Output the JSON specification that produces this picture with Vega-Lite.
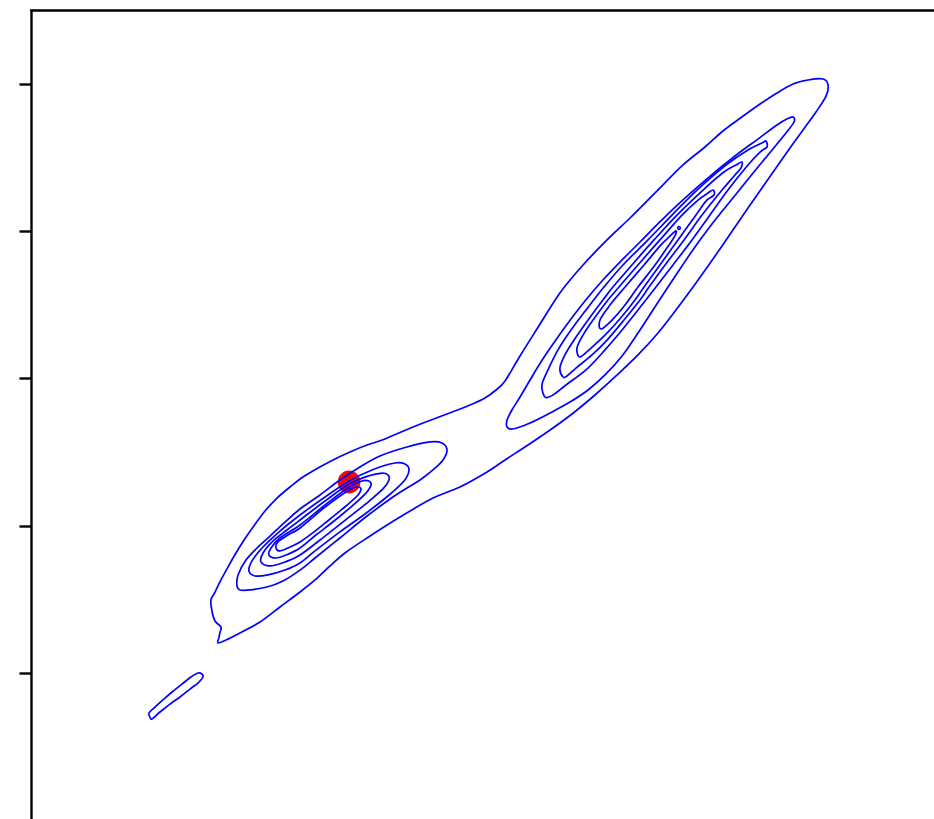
{
  "$schema": "https://vega.github.io/schema/vega-lite/v6.json",
  "autosize": {"type": "none"},
  "padding": {"left": 31, "top": 10, "right": 0, "bottom": 0},
  "width": 903,
  "height": 809,
  "background": "white",
  "config": {"view": {"stroke": null}},
  "datasets": {
    "peak": [{"x": 2.160, "y": 1.297}],
    "contours": [
      {"c":"a","i":1,"x":1.270,"y":0.204},{"c":"a","i":2,"x":1.277,"y":0.244},{"c":"a","i":3,"x":1.284,"y":0.278},{"c":"a","i":4,"x":1.290,"y":0.312},{"c":"a","i":5,"x":1.250,"y":0.353},{"c":"a","i":6,"x":1.229,"y":0.421},{"c":"a","i":7,"x":1.222,"y":0.496},{"c":"a","i":8,"x":1.250,"y":0.550},{"c":"a","i":9,"x":1.290,"y":0.632},{"c":"a","i":10,"x":1.345,"y":0.733},
      {"c":"a","i":11,"x":1.392,"y":0.815},{"c":"a","i":12,"x":1.447,"y":0.903},{"c":"a","i":13,"x":1.508,"y":0.991},{"c":"a","i":14,"x":1.589,"y":1.100},{"c":"a","i":15,"x":1.671,"y":1.188},{"c":"a","i":16,"x":1.759,"y":1.263},{"c":"a","i":17,"x":1.847,"y":1.331},{"c":"a","i":18,"x":1.949,"y":1.392},{"c":"a","i":19,"x":2.051,"y":1.447},{"c":"a","i":20,"x":2.166,"y":1.501},
      {"c":"a","i":21,"x":2.282,"y":1.548},{"c":"a","i":22,"x":2.404,"y":1.589},{"c":"a","i":23,"x":2.594,"y":1.671},{"c":"a","i":24,"x":2.825,"y":1.759},{"c":"a","i":25,"x":2.981,"y":1.820},{"c":"a","i":26,"x":3.083,"y":1.868},{"c":"a","i":27,"x":3.158,"y":1.922},{"c":"a","i":28,"x":3.219,"y":1.983},{"c":"a","i":29,"x":3.321,"y":2.153},{"c":"a","i":30,"x":3.436,"y":2.336},
      {"c":"a","i":31,"x":3.592,"y":2.581},{"c":"a","i":32,"x":3.749,"y":2.771},{"c":"a","i":33,"x":3.912,"y":2.941},{"c":"a","i":34,"x":4.068,"y":3.090},{"c":"a","i":35,"x":4.238,"y":3.260},{"c":"a","i":36,"x":4.428,"y":3.450},{"c":"a","i":37,"x":4.577,"y":3.572},{"c":"a","i":38,"x":4.699,"y":3.681},{"c":"a","i":39,"x":4.828,"y":3.776},{"c":"a","i":40,"x":4.951,"y":3.864},
      {"c":"a","i":41,"x":5.066,"y":3.939},{"c":"a","i":42,"x":5.175,"y":4.000},{"c":"a","i":43,"x":5.277,"y":4.027},{"c":"a","i":44,"x":5.379,"y":4.034},{"c":"a","i":45,"x":5.413,"y":3.993},{"c":"a","i":46,"x":5.399,"y":3.918},{"c":"a","i":47,"x":5.331,"y":3.810},{"c":"a","i":48,"x":5.243,"y":3.688},{"c":"a","i":49,"x":5.154,"y":3.565},{"c":"a","i":50,"x":5.059,"y":3.430},
      {"c":"a","i":51,"x":4.964,"y":3.294},{"c":"a","i":52,"x":4.869,"y":3.158},{"c":"a","i":53,"x":4.781,"y":3.029},{"c":"a","i":54,"x":4.693,"y":2.900},{"c":"a","i":55,"x":4.598,"y":2.764},{"c":"a","i":56,"x":4.496,"y":2.621},{"c":"a","i":57,"x":4.380,"y":2.465},{"c":"a","i":58,"x":4.258,"y":2.309},{"c":"a","i":59,"x":4.122,"y":2.160},{"c":"a","i":60,"x":3.973,"y":2.017},
      {"c":"a","i":61,"x":3.830,"y":1.888},{"c":"a","i":62,"x":3.674,"y":1.759},{"c":"a","i":63,"x":3.525,"y":1.650},{"c":"a","i":64,"x":3.375,"y":1.548},{"c":"a","i":65,"x":3.219,"y":1.447},{"c":"a","i":66,"x":3.097,"y":1.365},{"c":"a","i":67,"x":2.913,"y":1.263},{"c":"a","i":68,"x":2.730,"y":1.188},{"c":"a","i":69,"x":2.506,"y":1.059},{"c":"a","i":70,"x":2.282,"y":0.917},
      {"c":"a","i":71,"x":2.132,"y":0.815},{"c":"a","i":72,"x":2.031,"y":0.727},{"c":"a","i":73,"x":1.929,"y":0.632},{"c":"a","i":74,"x":1.827,"y":0.550},{"c":"a","i":75,"x":1.691,"y":0.448},{"c":"a","i":76,"x":1.555,"y":0.346},{"c":"a","i":77,"x":1.419,"y":0.272},{"c":"a","i":78,"x":1.324,"y":0.224},

      {"c":"b","i":1,"x":1.134,"y":0.000},{"c":"b","i":2,"x":1.161,"y":-0.007},{"c":"b","i":3,"x":1.168,"y":-0.027},{"c":"b","i":4,"x":1.134,"y":-0.068},{"c":"b","i":5,"x":1.080,"y":-0.109},{"c":"b","i":6,"x":1.012,"y":-0.163},{"c":"b","i":7,"x":0.944,"y":-0.211},{"c":"b","i":8,"x":0.876,"y":-0.265},
      {"c":"b","i":9,"x":0.822,"y":-0.312},{"c":"b","i":10,"x":0.808,"y":-0.299},{"c":"b","i":11,"x":0.801,"y":-0.272},{"c":"b","i":12,"x":0.842,"y":-0.231},{"c":"b","i":13,"x":0.896,"y":-0.183},{"c":"b","i":14,"x":0.958,"y":-0.129},{"c":"b","i":15,"x":1.025,"y":-0.075},{"c":"b","i":16,"x":1.087,"y":-0.027},

      {"c":"c2","i":1,"x":1.399,"y":0.591},{"c":"c2","i":2,"x":1.406,"y":0.666},{"c":"c2","i":3,"x":1.460,"y":0.767},{"c":"c2","i":4,"x":1.535,"y":0.849},{"c":"c2","i":5,"x":1.623,"y":0.930},{"c":"c2","i":6,"x":1.725,"y":1.025},{"c":"c2","i":7,"x":1.827,"y":1.114},{"c":"c2","i":8,"x":1.963,"y":1.209},{"c":"c2","i":9,"x":2.098,"y":1.311},{"c":"c2","i":10,"x":2.234,"y":1.399},
      {"c":"c2","i":11,"x":2.370,"y":1.474},{"c":"c2","i":12,"x":2.553,"y":1.535},{"c":"c2","i":13,"x":2.710,"y":1.569},{"c":"c2","i":14,"x":2.791,"y":1.562},{"c":"c2","i":15,"x":2.825,"y":1.514},{"c":"c2","i":16,"x":2.798,"y":1.447},{"c":"c2","i":17,"x":2.730,"y":1.379},{"c":"c2","i":18,"x":2.642,"y":1.311},{"c":"c2","i":19,"x":2.553,"y":1.256},{"c":"c2","i":20,"x":2.458,"y":1.195},
      {"c":"c2","i":21,"x":2.282,"y":1.066},{"c":"c2","i":22,"x":2.098,"y":0.917},{"c":"c2","i":23,"x":1.929,"y":0.781},{"c":"c2","i":24,"x":1.827,"y":0.699},{"c":"c2","i":25,"x":1.711,"y":0.625},{"c":"c2","i":26,"x":1.603,"y":0.584},{"c":"c2","i":27,"x":1.487,"y":0.564},{"c":"c2","i":28,"x":1.419,"y":0.564},

      {"c":"c3","i":1,"x":1.480,"y":0.693},{"c":"c3","i":2,"x":1.501,"y":0.761},{"c":"c3","i":3,"x":1.569,"y":0.849},{"c":"c3","i":4,"x":1.691,"y":0.964},{"c":"c3","i":5,"x":1.827,"y":1.073},{"c":"c3","i":6,"x":1.997,"y":1.195},{"c":"c3","i":7,"x":2.160,"y":1.304},{"c":"c3","i":8,"x":2.316,"y":1.379},{"c":"c3","i":9,"x":2.472,"y":1.426},{"c":"c3","i":10,"x":2.540,"y":1.419},
      {"c":"c3","i":11,"x":2.567,"y":1.379},{"c":"c3","i":12,"x":2.533,"y":1.304},{"c":"c3","i":13,"x":2.424,"y":1.202},{"c":"c3","i":14,"x":2.268,"y":1.080},{"c":"c3","i":15,"x":2.098,"y":0.958},{"c":"c3","i":16,"x":1.929,"y":0.829},{"c":"c3","i":17,"x":1.827,"y":0.747},{"c":"c3","i":18,"x":1.725,"y":0.699},{"c":"c3","i":19,"x":1.609,"y":0.666},{"c":"c3","i":20,"x":1.521,"y":0.659},

      {"c":"c4","i":1,"x":1.562,"y":0.754},{"c":"c4","i":2,"x":1.576,"y":0.815},{"c":"c4","i":3,"x":1.643,"y":0.896},{"c":"c4","i":4,"x":1.738,"y":0.971},{"c":"c4","i":5,"x":1.827,"y":1.039},{"c":"c4","i":6,"x":1.997,"y":1.168},{"c":"c4","i":7,"x":2.160,"y":1.283},{"c":"c4","i":8,"x":2.289,"y":1.338},{"c":"c4","i":9,"x":2.384,"y":1.358},
      {"c":"c4","i":10,"x":2.424,"y":1.345},{"c":"c4","i":11,"x":2.431,"y":1.311},{"c":"c4","i":12,"x":2.390,"y":1.250},{"c":"c4","i":13,"x":2.289,"y":1.161},{"c":"c4","i":14,"x":2.153,"y":1.053},{"c":"c4","i":15,"x":1.997,"y":0.930},{"c":"c4","i":16,"x":1.827,"y":0.801},{"c":"c4","i":17,"x":1.725,"y":0.754},{"c":"c4","i":18,"x":1.623,"y":0.727},

      {"c":"c5","i":1,"x":1.616,"y":0.801},{"c":"c5","i":2,"x":1.630,"y":0.849},{"c":"c5","i":3,"x":1.691,"y":0.917},{"c":"c5","i":4,"x":1.827,"y":1.005},{"c":"c5","i":5,"x":1.997,"y":1.141},{"c":"c5","i":6,"x":2.160,"y":1.263},{"c":"c5","i":7,"x":2.248,"y":1.304},{"c":"c5","i":8,"x":2.295,"y":1.304},
      {"c":"c5","i":9,"x":2.309,"y":1.277},{"c":"c5","i":10,"x":2.275,"y":1.222},{"c":"c5","i":11,"x":2.180,"y":1.134},{"c":"c5","i":12,"x":2.058,"y":1.032},{"c":"c5","i":13,"x":1.935,"y":0.937},{"c":"c5","i":14,"x":1.827,"y":0.849},{"c":"c5","i":15,"x":1.732,"y":0.801},{"c":"c5","i":16,"x":1.664,"y":0.781},

      {"c":"c6","i":1,"x":1.664,"y":0.849},{"c":"c6","i":2,"x":1.677,"y":0.890},{"c":"c6","i":3,"x":1.745,"y":0.937},{"c":"c6","i":4,"x":1.827,"y":0.985},{"c":"c6","i":5,"x":1.997,"y":1.127},{"c":"c6","i":6,"x":2.160,"y":1.243},{"c":"c6","i":7,"x":2.214,"y":1.263},{"c":"c6","i":8,"x":2.241,"y":1.250},
      {"c":"c6","i":9,"x":2.221,"y":1.209},{"c":"c6","i":10,"x":2.139,"y":1.134},{"c":"c6","i":11,"x":2.031,"y":1.046},{"c":"c6","i":12,"x":1.922,"y":0.958},{"c":"c6","i":13,"x":1.827,"y":0.890},{"c":"c6","i":14,"x":1.745,"y":0.849},{"c":"c6","i":15,"x":1.691,"y":0.829},

      {"c":"u2","i":1,"x":3.233,"y":1.671},{"c":"u2","i":2,"x":3.233,"y":1.718},{"c":"u2","i":3,"x":3.266,"y":1.786},{"c":"u2","i":4,"x":3.321,"y":1.874},{"c":"u2","i":5,"x":3.389,"y":1.990},{"c":"u2","i":6,"x":3.463,"y":2.112},{"c":"u2","i":7,"x":3.545,"y":2.234},{"c":"u2","i":8,"x":3.647,"y":2.377},{"c":"u2","i":9,"x":3.762,"y":2.526},{"c":"u2","i":10,"x":3.884,"y":2.669},
      {"c":"u2","i":11,"x":4.014,"y":2.805},{"c":"u2","i":12,"x":4.136,"y":2.927},{"c":"u2","i":13,"x":4.271,"y":3.063},{"c":"u2","i":14,"x":4.435,"y":3.219},{"c":"u2","i":15,"x":4.604,"y":3.368},{"c":"u2","i":16,"x":4.781,"y":3.511},{"c":"u2","i":17,"x":4.937,"y":3.626},{"c":"u2","i":18,"x":5.066,"y":3.722},{"c":"u2","i":19,"x":5.134,"y":3.762},{"c":"u2","i":20,"x":5.175,"y":3.776},
      {"c":"u2","i":21,"x":5.182,"y":3.742},{"c":"u2","i":22,"x":5.127,"y":3.667},{"c":"u2","i":23,"x":5.039,"y":3.559},{"c":"u2","i":24,"x":4.937,"y":3.436},{"c":"u2","i":25,"x":4.822,"y":3.294},{"c":"u2","i":26,"x":4.706,"y":3.151},{"c":"u2","i":27,"x":4.604,"y":3.022},{"c":"u2","i":28,"x":4.509,"y":2.893},{"c":"u2","i":29,"x":4.421,"y":2.764},{"c":"u2","i":30,"x":4.326,"y":2.621},
      {"c":"u2","i":31,"x":4.224,"y":2.465},{"c":"u2","i":32,"x":4.122,"y":2.309},{"c":"u2","i":33,"x":4.014,"y":2.153},{"c":"u2","i":34,"x":3.898,"y":2.024},{"c":"u2","i":35,"x":3.783,"y":1.922},{"c":"u2","i":36,"x":3.660,"y":1.840},{"c":"u2","i":37,"x":3.525,"y":1.766},{"c":"u2","i":38,"x":3.389,"y":1.698},{"c":"u2","i":39,"x":3.273,"y":1.657},

      {"c":"u3","i":1,"x":3.491,"y":1.874},{"c":"u3","i":2,"x":3.470,"y":1.956},{"c":"u3","i":3,"x":3.511,"y":2.058},{"c":"u3","i":4,"x":3.579,"y":2.194},{"c":"u3","i":5,"x":3.667,"y":2.329},{"c":"u3","i":6,"x":3.769,"y":2.465},{"c":"u3","i":7,"x":3.891,"y":2.621},{"c":"u3","i":8,"x":4.020,"y":2.771},{"c":"u3","i":9,"x":4.190,"y":2.941},{"c":"u3","i":10,"x":4.353,"y":3.110},
      {"c":"u3","i":11,"x":4.523,"y":3.280},{"c":"u3","i":12,"x":4.720,"y":3.450},{"c":"u3","i":13,"x":4.869,"y":3.552},{"c":"u3","i":14,"x":4.964,"y":3.599},{"c":"u3","i":15,"x":4.991,"y":3.613},{"c":"u3","i":16,"x":4.998,"y":3.572},{"c":"u3","i":17,"x":4.951,"y":3.538},{"c":"u3","i":18,"x":4.869,"y":3.450},{"c":"u3","i":19,"x":4.733,"y":3.280},{"c":"u3","i":20,"x":4.611,"y":3.110},
      {"c":"u3","i":21,"x":4.489,"y":2.941},{"c":"u3","i":22,"x":4.360,"y":2.771},{"c":"u3","i":23,"x":4.244,"y":2.621},{"c":"u3","i":24,"x":4.122,"y":2.465},{"c":"u3","i":25,"x":4.014,"y":2.329},{"c":"u3","i":26,"x":3.898,"y":2.194},{"c":"u3","i":27,"x":3.769,"y":2.058},{"c":"u3","i":28,"x":3.633,"y":1.956},{"c":"u3","i":29,"x":3.545,"y":1.888},

      {"c":"u4","i":1,"x":3.613,"y":2.010},{"c":"u4","i":2,"x":3.592,"y":2.071},{"c":"u4","i":3,"x":3.626,"y":2.160},{"c":"u4","i":4,"x":3.688,"y":2.261},{"c":"u4","i":5,"x":3.783,"y":2.397},{"c":"u4","i":6,"x":3.884,"y":2.533},{"c":"u4","i":7,"x":3.952,"y":2.621},{"c":"u4","i":8,"x":4.081,"y":2.771},{"c":"u4","i":9,"x":4.231,"y":2.941},{"c":"u4","i":10,"x":4.387,"y":3.110},
      {"c":"u4","i":11,"x":4.564,"y":3.280},{"c":"u4","i":12,"x":4.706,"y":3.402},{"c":"u4","i":13,"x":4.788,"y":3.450},{"c":"u4","i":14,"x":4.828,"y":3.470},{"c":"u4","i":15,"x":4.822,"y":3.430},{"c":"u4","i":16,"x":4.781,"y":3.382},{"c":"u4","i":17,"x":4.693,"y":3.280},{"c":"u4","i":18,"x":4.557,"y":3.110},{"c":"u4","i":19,"x":4.435,"y":2.941},{"c":"u4","i":20,"x":4.306,"y":2.771},
      {"c":"u4","i":21,"x":4.197,"y":2.621},{"c":"u4","i":22,"x":4.136,"y":2.533},{"c":"u4","i":23,"x":4.027,"y":2.397},{"c":"u4","i":24,"x":3.912,"y":2.261},{"c":"u4","i":25,"x":3.810,"y":2.160},{"c":"u4","i":26,"x":3.701,"y":2.071},{"c":"u4","i":27,"x":3.640,"y":2.017},

      {"c":"u5","i":1,"x":3.728,"y":2.146},{"c":"u5","i":2,"x":3.708,"y":2.207},{"c":"u5","i":3,"x":3.749,"y":2.295},{"c":"u5","i":4,"x":3.817,"y":2.397},{"c":"u5","i":5,"x":3.918,"y":2.533},{"c":"u5","i":6,"x":3.993,"y":2.621},{"c":"u5","i":7,"x":4.122,"y":2.771},{"c":"u5","i":8,"x":4.271,"y":2.941},{"c":"u5","i":9,"x":4.421,"y":3.110},{"c":"u5","i":10,"x":4.530,"y":3.212},
      {"c":"u5","i":11,"x":4.598,"y":3.260},{"c":"u5","i":12,"x":4.632,"y":3.280},{"c":"u5","i":13,"x":4.638,"y":3.246},{"c":"u5","i":14,"x":4.584,"y":3.205},{"c":"u5","i":15,"x":4.516,"y":3.110},{"c":"u5","i":16,"x":4.394,"y":2.941},{"c":"u5","i":17,"x":4.271,"y":2.771},{"c":"u5","i":18,"x":4.163,"y":2.621},{"c":"u5","i":19,"x":4.102,"y":2.533},{"c":"u5","i":20,"x":3.993,"y":2.397},
      {"c":"u5","i":21,"x":3.898,"y":2.295},{"c":"u5","i":22,"x":3.803,"y":2.207},

      {"c":"u6","i":1,"x":3.871,"y":2.336},{"c":"u6","i":2,"x":3.864,"y":2.397},{"c":"u6","i":3,"x":3.932,"y":2.499},{"c":"u6","i":4,"x":4.034,"y":2.621},{"c":"u6","i":5,"x":4.163,"y":2.771},{"c":"u6","i":6,"x":4.278,"y":2.907},{"c":"u6","i":7,"x":4.333,"y":2.961},
      {"c":"u6","i":8,"x":4.380,"y":3.002},{"c":"u6","i":9,"x":4.373,"y":2.968},{"c":"u6","i":10,"x":4.333,"y":2.907},{"c":"u6","i":11,"x":4.238,"y":2.771},{"c":"u6","i":12,"x":4.122,"y":2.621},{"c":"u6","i":13,"x":4.034,"y":2.499},{"c":"u6","i":14,"x":3.946,"y":2.397},

      {"c":"u7","i":1,"x":4.394,"y":3.029},{"c":"u7","i":2,"x":4.407,"y":3.029},{"c":"u7","i":3,"x":4.407,"y":3.015},{"c":"u7","i":4,"x":4.394,"y":3.015}
    ]
  },
  "encoding": {
    "x": {
      "field": "x", "type": "quantitative",
      "scale": {"domain": [0, 6.1324], "nice": false, "zero": false},
      "axis": {"orient": "top", "title": null, "labels": false, "ticks": false, "grid": false, "domainColor": "#000000", "domainWidth": 2.4, "domainCap": "square"}
    },
    "y": {
      "field": "y", "type": "quantitative",
      "scale": {"domain": [-0.9915, 4.5025], "nice": false, "zero": false},
      "axis": {"orient": "left", "title": null, "labels": false, "grid": false, "values": [0, 1, 2, 3, 4], "tickSize": 12, "tickWidth": 2.4, "tickColor": "#000000", "domainColor": "#000000", "domainWidth": 2.4, "domainCap": "square"}
    }
  },
  "layer": [
    {
      "data": {"name": "peak"},
      "mark": {"type": "point", "shape": "circle", "filled": true, "size": 520, "color": "#ff0000", "opacity": 1}
    },
    {
      "data": {"name": "contours"},
      "mark": {"type": "line", "interpolate": "cardinal-closed", "color": "#0000ff", "strokeWidth": 1.7, "clip": true},
      "encoding": {
        "detail": {"field": "c", "type": "nominal"},
        "order": {"field": "i", "type": "quantitative"}
      }
    }
  ]
}
